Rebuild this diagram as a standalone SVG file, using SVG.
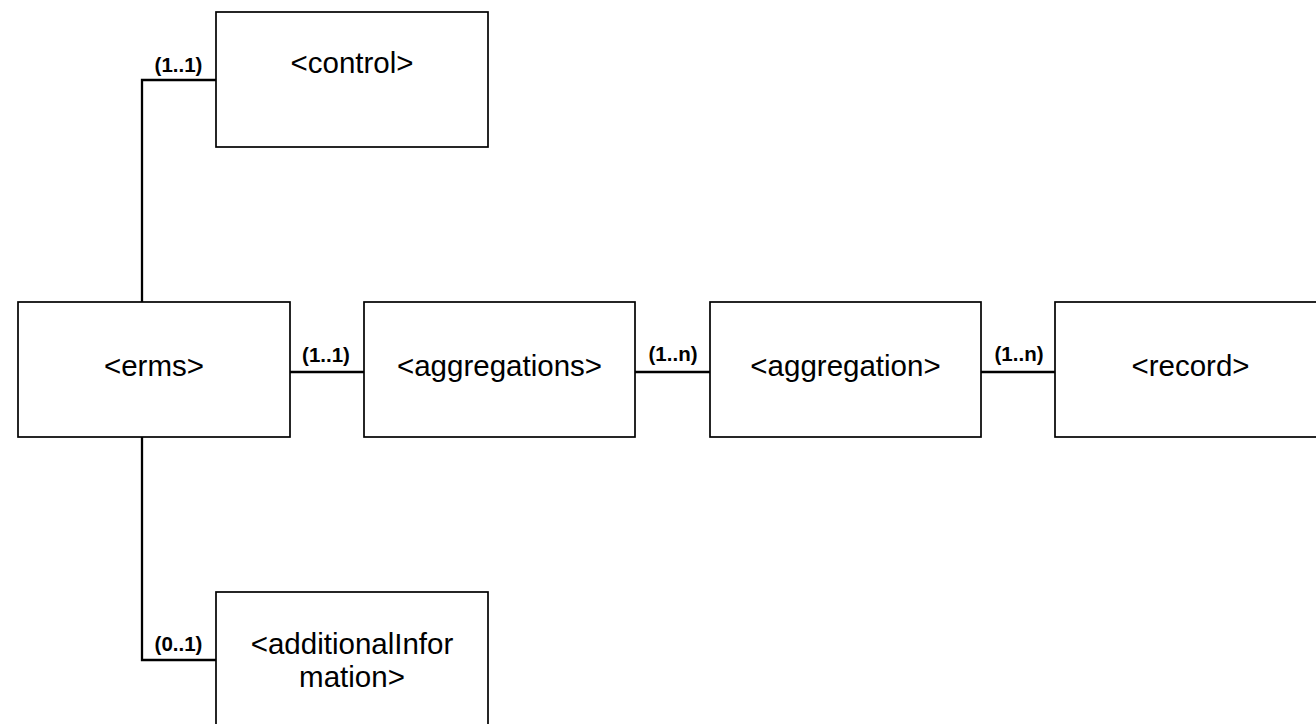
<svg xmlns="http://www.w3.org/2000/svg" width="1316" height="724" viewBox="0 0 1316 724">
<style>
.box{fill:#ffffff;stroke:#000000;stroke-width:1.7}
.lbl{font-family:"Liberation Sans",Arial,sans-serif;font-size:29.5px;fill:#000000;text-anchor:middle}
.card{font-family:"Liberation Sans",Arial,sans-serif;font-size:20.5px;font-weight:bold;fill:#000000;text-anchor:middle}
.conn{fill:none;stroke:#000000;stroke-width:2.3}
</style>
<rect width="1316" height="724" fill="#ffffff"/>
<g id="connectors">
<path class="conn" d="M216,80 H142 V302"/>
<path class="conn" d="M290,372 H364"/>
<path class="conn" d="M635,372 H710"/>
<path class="conn" d="M981,372 H1055"/>
<path class="conn" d="M142,437 V660 H216"/>
<text class="card" x="178.5" y="71.5">(1..1)</text>
<text class="card" x="326" y="362">(1..1)</text>
<text class="card" x="673" y="361">(1..n)</text>
<text class="card" x="1019" y="361">(1..n)</text>
<text class="card" x="178.5" y="651">(0..1)</text>
</g>
<g id="control">
<rect class="box" x="216" y="12" width="272" height="135"/>
<text class="lbl" x="352" y="73">&lt;control&gt;</text>
</g>
<g id="erms">
<rect class="box" x="18" y="302" width="272" height="135"/>
<text class="lbl" x="154" y="376">&lt;erms&gt;</text>
</g>
<g id="aggregations">
<rect class="box" x="364" y="302" width="271" height="135"/>
<text class="lbl" x="499.5" y="376">&lt;aggregations&gt;</text>
</g>
<g id="aggregation">
<rect class="box" x="710" y="302" width="271" height="135"/>
<text class="lbl" x="845.5" y="376">&lt;aggregation&gt;</text>
</g>
<g id="record">
<rect class="box" x="1055" y="302" width="271" height="135"/>
<text class="lbl" x="1190.5" y="376">&lt;record&gt;</text>
</g>
<g id="additionalInformation">
<rect class="box" x="216" y="592" width="272" height="135"/>
<text class="lbl" x="352" y="654">&lt;additionalInfor</text>
<text class="lbl" x="352" y="687">mation&gt;</text>
</g>
</svg>
